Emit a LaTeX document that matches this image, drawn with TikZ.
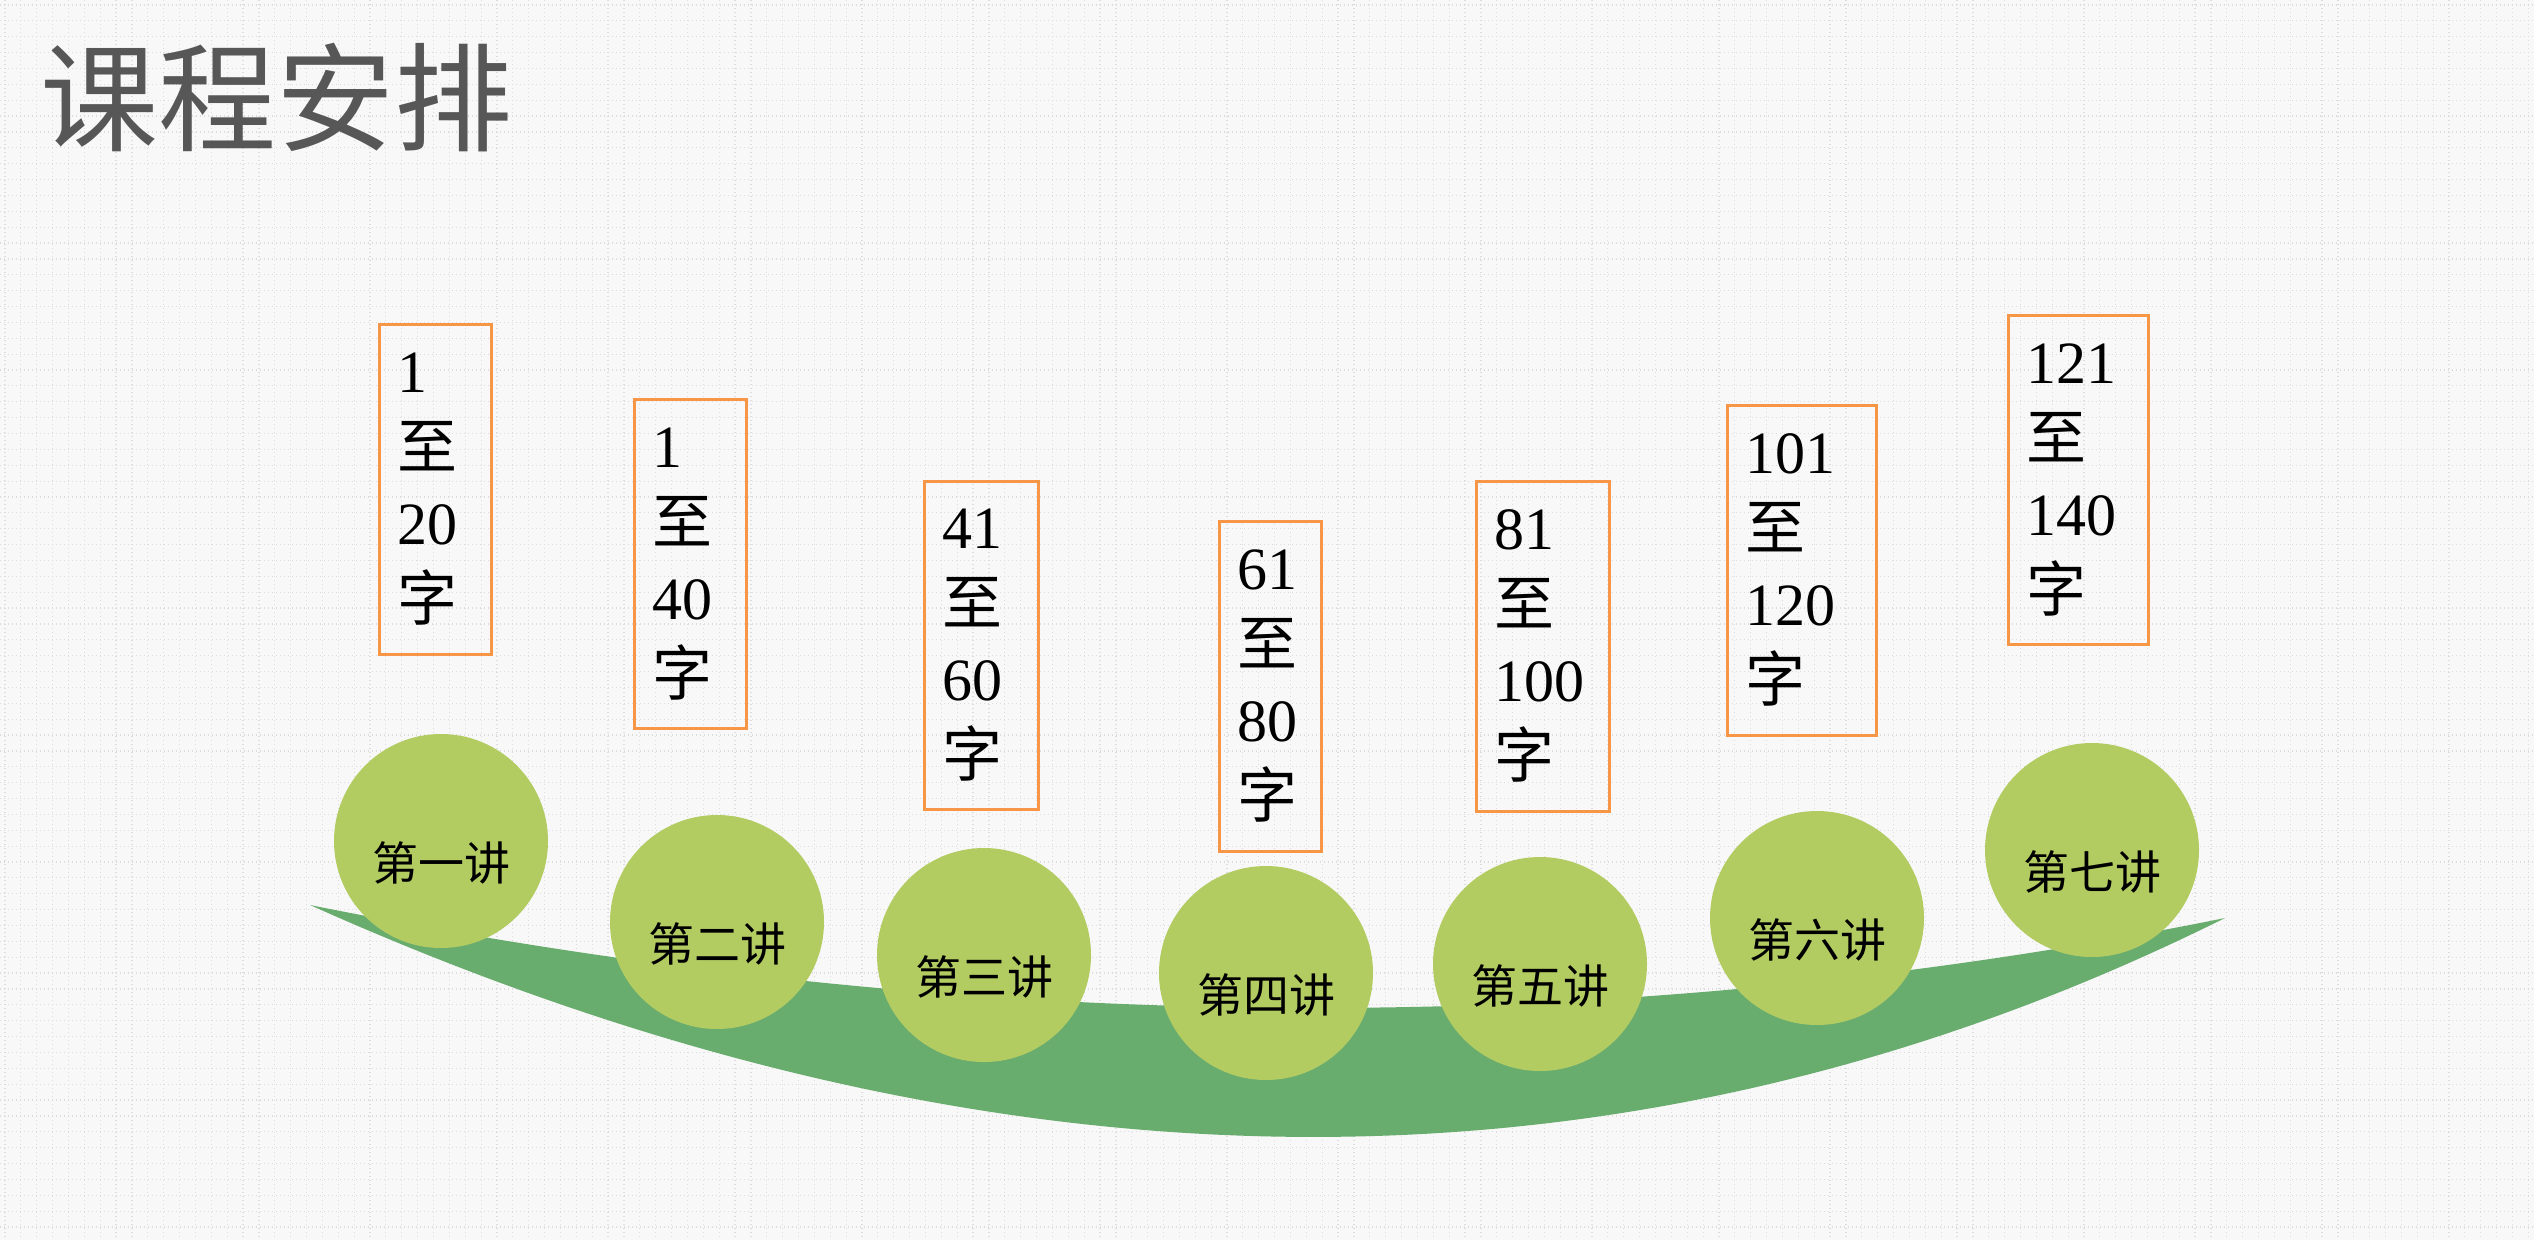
\documentclass[tikz,border=0pt]{standalone}
\usepackage{fontspec}
\setmainfont{Liberation Serif}
\newfontfamily\cjk{Noto Sans CJK SC}
\definecolor{bgcol}{HTML}{F8F8F8}
\definecolor{gridcol}{HTML}{DCDCDC}
\definecolor{bandcol}{HTML}{69AD6E}
\definecolor{ballcol}{HTML}{B3CC62}
\definecolor{boxcol}{HTML}{F79646}
\definecolor{titlecol}{HTML}{575757}
\tikzset{
  gridline/.style={draw=gridcol, line width=1.2pt, dash pattern=on 1.4pt off 2.6pt},
  rangebox/.style={draw=boxcol, line width=2.5pt, anchor=north west, align=left,
    inner xsep=18pt, inner ysep=0pt, font=\fontsize{60}{76}\selectfont, text=black},
  ball/.style={circle, fill=ballcol, minimum size=214pt, inner sep=0pt},
  balllabel/.style={font=\cjk\fontsize{46}{46}\selectfont, text=black, inner sep=0pt},
}
\newcommand{\rangetext}[2]{#1\\{\cjk 至}\\#2\\{\cjk 字}}
\begin{document}
\begin{tikzpicture}[x=1pt,y=-1pt]
\useasboundingbox (0,0) rectangle (2534,1240);
\fill[bgcol] (0,0) rectangle (2534,1240);
% dotted grid
\foreach \i in {0,...,159} \draw[gridline] ({5+\i*15.87},0) -- ({5+\i*15.87},1240);
\foreach \j in {0,...,78} \draw[gridline] (0,{5+\j*15.87}) -- (2534,{5+\j*15.87});
% title
\node[anchor=west, inner sep=0pt, text=titlecol, font=\cjk\fontsize{118}{118}\selectfont] (title) at (40,98) {课程安排};
% green band
\fill[bandcol] (310,905) .. controls (991,1042) and (1630,1038) .. (2225,918)
  .. controls (1630,1214) and (991,1210) .. (310,905) -- cycle;
% boxes
\node[rangebox, minimum height=330pt, text width={112pt-36pt}] (b1) at (378,323) {\rangetext{1}{20}};
\node[rangebox, minimum height=329pt, text width={112pt-36pt}] (b2) at (633,398) {\rangetext{1}{40}};
\node[rangebox, minimum height=328pt, text width={114pt-36pt}] (b3) at (923,480) {\rangetext{41}{60}};
\node[rangebox, minimum height=330pt, text width={102pt-36pt}] (b4) at (1218,520) {\rangetext{61}{80}};
\node[rangebox, minimum height=330pt, text width={133pt-36pt}] (b5) at (1475,480) {\rangetext{81}{100}};
\node[rangebox, minimum height=330pt, text width={149pt-36pt}] (b6) at (1726,404) {\rangetext{101}{120}};
\node[rangebox, minimum height=329pt, text width={140pt-36pt}] (b7) at (2007,314) {\rangetext{121}{140}};
% balls
\node[ball] (c1) at (441,841) {};
\node[ball] (c2) at (717,922) {};
\node[ball] (c3) at (984,955) {};
\node[ball] (c4) at (1266,973) {};
\node[ball] (c5) at (1540,964) {};
\node[ball] (c6) at (1817,918) {};
\node[ball] (c7) at (2092,850) {};
\node[balllabel] (l1) at ([yshift=-22pt]c1.center) {第一讲};
\node[balllabel] (l2) at ([yshift=-22pt]c2.center) {第二讲};
\node[balllabel] (l3) at ([yshift=-22pt]c3.center) {第三讲};
\node[balllabel] (l4) at ([yshift=-22pt]c4.center) {第四讲};
\node[balllabel] (l5) at ([yshift=-22pt]c5.center) {第五讲};
\node[balllabel] (l6) at ([yshift=-22pt]c6.center) {第六讲};
\node[balllabel] (l7) at ([yshift=-22pt]c7.center) {第七讲};
\end{tikzpicture}
\end{document}
